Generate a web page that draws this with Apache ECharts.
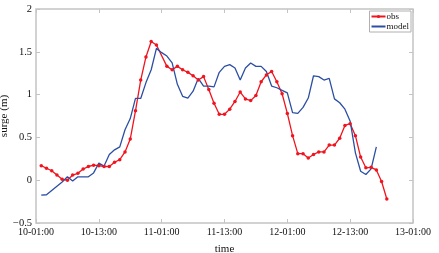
<!DOCTYPE html>
<html>
<head>
<meta charset="utf-8">
<script src="https://cdn.jsdelivr.net/npm/echarts@6/dist/echarts.min.js"></script>
<style>
  html, body { margin: 0; padding: 0; background: #fff; }
  #chart { width: 439px; height: 253px; }
</style>
</head>
<body>
<div id="chart"></div>
<script>
// hours counted from 10-01:00
var obsHours = [1,2,3,4,5,6,7,8,9,10,11,12,13,14,15,16,17,18,19,20,21,22,23,
  25,26,27,28,29,30,31,32,33,34,35,36,37,38,39,40,41,42,43,44,45,46,47,48,
  49,50,51,52,53,54,55,56,57,58,59,60,61,62,63,64,65,66,67]
var obsValues = [0.17,0.14,0.11,0.06,0.01,0.0,0.06,0.08,0.13,0.16,0.175,0.17,0.16,0.16,0.21,0.24,0.33,0.48,0.81,1.17,1.44,1.62,1.58,
  1.33,1.29,1.33,1.29,1.26,1.22,1.17,1.21,1.06,0.9,0.77,0.77,0.83,0.92,1.03,0.95,0.93,0.99,1.15,1.23,1.27,1.15,1.01,0.78,
  0.52,0.31,0.31,0.26,0.30,0.33,0.33,0.41,0.41,0.49,0.64,0.66,0.52,0.27,0.145,0.15,0.12,-0.015,-0.22]

var modelHours = [1,2,3,4,5,6,7,8,9,10,11,12,13,14,15,16,17,18,19,20,21,22,23,24,25,26,27,28,29,30,
  31,32,33,34,35,36,37,38,39,40,41,42,43,44,45,46,47,48,49,50,51,52,53,54,55,56,57,58,59,60,
  61,62,63,64,65]
var modelValues = [-0.175,-0.17,-0.12,-0.07,-0.02,0.04,-0.01,0.04,0.04,0.04,0.085,0.2,0.165,0.3,0.355,0.39,0.59,0.72,0.955,0.955,
  1.14,1.29,1.54,1.49,1.45,1.37,1.12,0.98,0.96,1.04,1.19,1.10,1.10,1.09,1.26,1.33,1.35,1.31,1.17,1.31,
  1.37,1.33,1.33,1.27,1.10,1.08,1.05,1.02,0.79,0.78,0.85,0.96,1.22,1.21,1.17,1.19,0.95,0.905,0.83,0.69,
  0.32,0.105,0.066,0.133,0.39]

var xTickLabels = ['10-01:00','10-13:00','11-01:00','11-13:00','12-01:00','12-13:00','13-01:00']

var chart = echarts.init(document.getElementById('chart'))
var font = 'Liberation Serif'
var frame = '#c4c4c4'

function pairs(xs, ys) {
  return xs.map(function (x, i) { return [x, ys[i]] })
}

var option = {
  animation: false,
  textStyle: { fontFamily: font },
  grid: {
    left: 36, right: 26, top: 9, bottom: 30,
    containLabel: false, outerBoundsMode: 'none',
    show: true, borderColor: frame, borderWidth: 1.5
  },
  legend: {
    data: [{ name: 'obs' }, { name: 'model', itemStyle: { opacity: 0 } }],
    orient: 'vertical',
    right: 28,
    top: 11,
    itemWidth: 14,
    itemHeight: 4,
    itemGap: 1,
    padding: [1, 2, 1, 1],
    borderColor: '#b0b0b0',
    borderWidth: 1,
    backgroundColor: '#fff',
    textStyle: { fontFamily: font, fontSize: 9, color: '#111', padding: [0, 0, 0, -4] }
  },
  xAxis: [
    {
      type: 'value', min: 0, max: 72, interval: 12,
      name: 'time', nameLocation: 'middle', nameGap: 21, nameMoveOverlap: false,
      nameTextStyle: { fontFamily: font, fontSize: 11, color: '#111' },
      axisLine: { show: false, onZero: false },
      axisTick: { inside: true, length: 4, lineStyle: { color: frame } },
      axisLabel: {
        fontFamily: font, fontSize: 10, color: '#111', margin: 4,
        formatter: function (v) { return xTickLabels[v / 12] }
      },
      splitLine: { show: false }
    },
    {
      type: 'value', min: 0, max: 72, interval: 12, position: 'top',
      axisLine: { show: false, onZero: false },
      axisTick: { inside: true, length: 4, lineStyle: { color: frame } },
      axisLabel: { show: false },
      splitLine: { show: false }
    }
  ],
  yAxis: [
    {
      type: 'value', min: -0.5, max: 2, interval: 0.5, position: 'left',
      name: 'surge (m)', nameLocation: 'middle', nameGap: 26, nameMoveOverlap: false,
      nameTextStyle: { fontFamily: font, fontSize: 11, color: '#111' },
      axisLine: { show: false, onZero: false },
      axisTick: { show: true, inside: true, length: 4, lineStyle: { color: frame } },
      axisLabel: {
        fontFamily: font, fontSize: 10.5, color: '#111', margin: 4,
        formatter: function (v) { return String(v).replace('-', '\u2212') }
      },
      splitLine: { show: false }
    },
    {
      type: 'value', min: -0.5, max: 2, interval: 0.5, position: 'right',
      axisLine: { show: false, onZero: false },
      axisTick: { show: true, inside: true, length: 4, lineStyle: { color: frame } },
      axisLabel: { show: false },
      splitLine: { show: false }
    }
  ],
  series: [
    {
      name: 'obs', type: 'line',
      data: pairs(obsHours, obsValues),
      symbol: 'circle', symbolSize: 3.5, showSymbol: true,
      lineStyle: { color: '#f0141e', width: 1.3 },
      itemStyle: { color: '#f0141e' }
    },
    {
      name: 'model', type: 'line',
      data: pairs(modelHours, modelValues),
      symbol: 'none',
      lineStyle: { color: '#2c4fa3', width: 1.3 },
      itemStyle: { color: '#2c4fa3' }
    }
  ]
}
chart.setOption(option)
</script>
</body>
</html>
